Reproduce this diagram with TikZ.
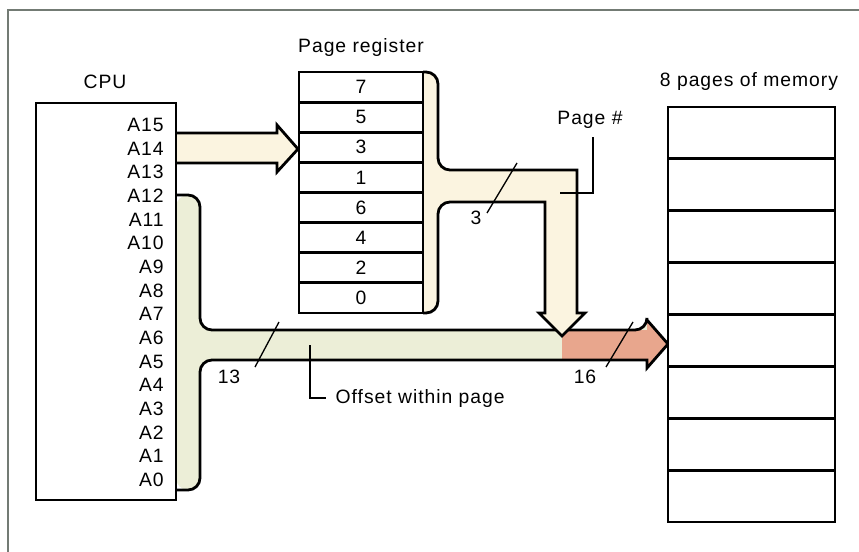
\documentclass[tikz,border=0pt]{standalone}
\usepackage{fontspec}
\setmainfont{Liberation Sans}[LetterSpace=5]
\usetikzlibrary{positioning,calc}
\definecolor{pgcream}{HTML}{FBF4E0}
\definecolor{offcream}{HTML}{ECEED7}
\definecolor{pgred}{HTML}{E8A68D}
\definecolor{framegray}{HTML}{737B74}
\tikzset{
  cell/.style={draw, line width=2.1pt, fill=white, inner sep=0pt,
    outer sep=0pt, anchor=north west},
  bus/.style={draw, line width=2.1pt, line join=miter},
  lead/.style={line width=1.6pt},
  tick/.style={line width=1pt},
}

\begin{document}
\begin{tikzpicture}[x=0.75pt, y=-0.75pt, font=\fontsize{14.5}{17}\selectfont]
  \useasboundingbox (0,0) rectangle (859,552);
  \draw[framegray, line width=1.4pt] (8,552) -- (8,10) -- (859,10);

  % offset bus, A12..A0 to memory
  \fill[offcream] (176,195) [rounded corners=9pt] -| (200,330) -- (647,330)
    [sharp corners] -- (647,320) -- (668,344) -- (647,368) -- (647,360)
    [rounded corners=9pt] -- (200,360) |- (176,490) -- cycle;
  \fill[pgred] (562,330) -- (647,330) -- (647,320) -- (668,344)
    -- (647,368) -- (647,360) -- (562,360) -- cycle;
  \draw[bus] (176,195) [rounded corners=9pt] -| (200,330) -- (647,330)
    [sharp corners] -- (647,320) -- (668,344) -- (647,368) -- (647,360)
    [rounded corners=9pt] -- (200,360) |- (176,490);

  % page number bus
  \draw[bus, fill=pgcream] (423,72) [rounded corners=9pt] -| (438,170) -- (470,170)
    [sharp corners] -- (577,170) -- (577,313) -- (585,313) -- (562,336)
    -- (539,313) -- (545,313) -- (545,202) -- (470,202)
    [rounded corners=9pt] -- (438,202) -- (438,313) -- (423,313);

  % A15..A13 into the register
  \draw[bus, fill=pgcream] (176,133) -- (277,133) -- (277,125) -- (298,149)
    -- (277,172) -- (277,163) -- (176,163);

  \node[cell, minimum width=105pt, minimum height=297.75pt] (cpu) at (36,103) {};
  \foreach \v [count=\i from 0] in {7,5,3,1,6,4,2,0} {
    \node[cell, minimum width=93pt, minimum height=22.6pt] (r\i) at (299,{72+\i*30.125}) {\v};
  }
  \foreach \i in {0,...,7} {
    \node[cell, minimum width=125.25pt, minimum height=38.9pt] (m\i) at (668,{107+\i*51.875}) {};
  }
  \foreach \i in {0,...,15} {
    \node[anchor=east, inner sep=0pt] (a\i) at (164,{480-\i*23.67}) {A\i};
  }

  \node (cpulbl) at (105,82) {CPU};
  \node (preglbl) at (361,48) {Page register};
  \node (memlbl) at (749,82) {8 pages of memory};
  \node (pnum) at (590,120) {Page \#};
  \node (offlbl) [anchor=west] at (331,398) {Offset within page};

  \coordinate (pgpt) at (560,193);
  \coordinate (offpt) at (310,345);
  \draw[lead] ([yshift=-3pt]pnum.south -| 593,0) |- (pgpt);
  \draw[lead] (offpt) |- ([xshift=-4pt]offlbl.west);

  \node (n3) at (476,218) {3};
  \node (n13) at (229,377) {13};
  \node (n16) at (585,377) {16};
  \draw[tick] (487,213) -- (517,163);
  \draw[tick] (255,367) -- (279,322);
  \draw[tick] (606,367) -- (633,322);
\end{tikzpicture}
\end{document}
